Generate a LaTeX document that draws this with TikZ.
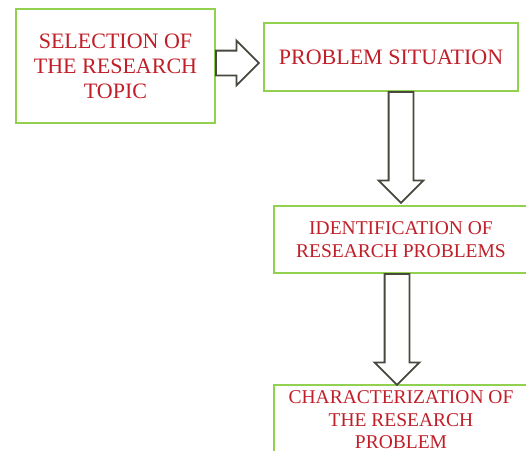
\documentclass[tikz,border=0pt]{standalone}
\usepackage{fontspec}
\setmainfont{Liberation Serif}
\usetikzlibrary{shapes.arrows}
\definecolor{boxgreen}{RGB}{146,208,80}
\definecolor{textred}{RGB}{192,30,40}
\definecolor{arrowgray}{RGB}{72,72,62}
\tikzset{
  stagebox/.style={draw=boxgreen, line width=1.8pt, fill=white, text=textred, align=center, inner sep=0pt},
  bigtext/.style={font=\fontsize{22}{25}\selectfont},
  smalltext/.style={font=\fontsize{19.5}{22.5}\selectfont},
  blockarrow/.style={single arrow, draw=arrowgray, line width=1.8pt, fill=white, minimum width=43pt,
    single arrow head extend=10pt, single arrow tip angle=90, inner sep=11.5pt, outer sep=0pt, anchor=tail}
}
\begin{document}
\begin{tikzpicture}[x=1pt,y=-1pt]
\useasboundingbox (0,0) rectangle (526,450);
\node[stagebox, bigtext, minimum width=199pt, minimum height=114pt] (topic) at (115.5,66) {SELECTION OF\\THE RESEARCH\\TOPIC};
\node[stagebox, bigtext, minimum width=254pt, minimum height=68pt] (situation) at (391,57) {PROBLEM SITUATION};
\node[stagebox, smalltext, minimum width=254pt, minimum height=67pt] (ident) at (401,239.5) {IDENTIFICATION OF\\RESEARCH PROBLEMS};
\node[stagebox, smalltext, minimum width=254pt, minimum height=70pt] (charact) at (401,420) {CHARACTERIZATION OF\\THE RESEARCH\\PROBLEM};
% block arrows
\node[blockarrow, minimum height=43pt] (arrA) at ([yshift=3pt]topic.east) {};
\node[blockarrow, shape border rotate=270, minimum height=111pt] (arrB) at (situation.south -| ident.north) {};
\node[blockarrow, shape border rotate=270, minimum height=111pt] (arrC) at ([xshift=-4pt]ident.south) {};
\end{tikzpicture}
\end{document}
